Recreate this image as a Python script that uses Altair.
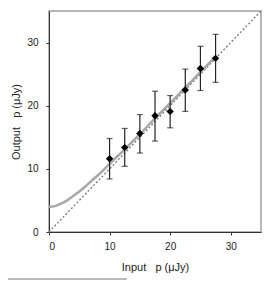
import altair as alt
import pandas as pd

# measured points
x_in = [10, 12.5, 15, 17.5, 20, 22.5, 25, 27.5]
y_out = [11.6, 13.4, 15.6, 18.4, 19.1, 22.5, 25.9, 27.5]
y_lo = [8.4, 10.4, 12.5, 14.4, 16.5, 19.1, 22.4, 23.7]
y_hi = [14.8, 16.4, 18.6, 22.3, 21.6, 25.8, 29.4, 31.3]

# bias curve
curve_x = [0, 1, 2, 3, 4, 5, 6, 7, 8, 10, 12.5, 15, 17.5, 20, 22.5, 25, 27.5]
curve_y = [4.0, 4.1, 4.5, 5.0, 5.7, 6.4, 7.2, 8.1, 8.9, 10.8, 13.1, 15.5, 18.0, 20.4, 22.9, 25.3, 27.8]

# 1:1 reference line
ref_x = [0, 35]
ref_y = [0, 35]

pts = pd.DataFrame({"x": x_in, "y": y_out, "lo": y_lo, "hi": y_hi})
cur = pd.DataFrame({"x": curve_x, "y": curve_y})
ref = pd.DataFrame({"x": ref_x, "y": ref_y})

FONT = "Liberation Sans"
XT = "Input\u00a0\u00a0 p (μJy)"
YT = "Output\u00a0\u00a0 p (μJy)"
xs = alt.Scale(domain=[0, 35], nice=False)
ys = alt.Scale(domain=[0, 35], nice=False)

xax = alt.Axis(values=[0, 10, 20, 30], title=XT, labelPadding=6, titlePadding=10)
yax = alt.Axis(values=[0, 10, 20, 30], title=YT, labelPadding=8, titlePadding=5)

refline = alt.Chart(ref).mark_line(color="#777", strokeDash=[2, 2], strokeWidth=1.3).encode(
    x=alt.X("x:Q", scale=xs, axis=xax), y=alt.Y("y:Q", scale=ys, axis=yax))

curve = alt.Chart(cur).mark_line(color="#a8a8a8", strokeWidth=2.5, interpolate="monotone").encode(
    x=alt.X("x:Q", scale=xs, axis=xax), y=alt.Y("y:Q", scale=ys, axis=yax))

bars = alt.Chart(pts).mark_errorbar(ticks=alt.MarkConfig(size=6, color="#222"), color="#222", thickness=1.2).encode(
    x=alt.X("x:Q", scale=xs, axis=xax), y=alt.Y("lo:Q", scale=ys, axis=yax), y2="hi:Q")

dots = alt.Chart(pts).mark_point(shape="diamond", filled=True, color="#000", size=55, opacity=1).encode(
    x=alt.X("x:Q", scale=xs, axis=xax), y=alt.Y("y:Q", scale=ys, axis=yax))

sep = alt.Chart(pd.DataFrame({"a": [0]})).mark_rule(color="#777", strokeWidth=1).encode(
    x=alt.value(-49), x2=alt.value(78), y=alt.value(268))

chart = alt.layer(refline, curve, bars, dots, sep).properties(
    width=212, height=221,
    background="white",
    autosize=alt.AutoSizeParams(type="none"),
    padding={"left": 41, "top": 3, "right": 4, "bottom": 52},
).configure_view(stroke="#a0a0a0", strokeWidth=1.5).configure_axis(
    grid=False, domainColor="#333", tickColor="#333", tickSize=3,
    labelFontSize=10, labelColor="#222", labelFont=FONT,
    titleFontSize=11, titleFontWeight="normal", titleColor="#222", titleFont=FONT,
)

chart.save("out.html", embed_options={"renderer": "svg", "actions": False})
